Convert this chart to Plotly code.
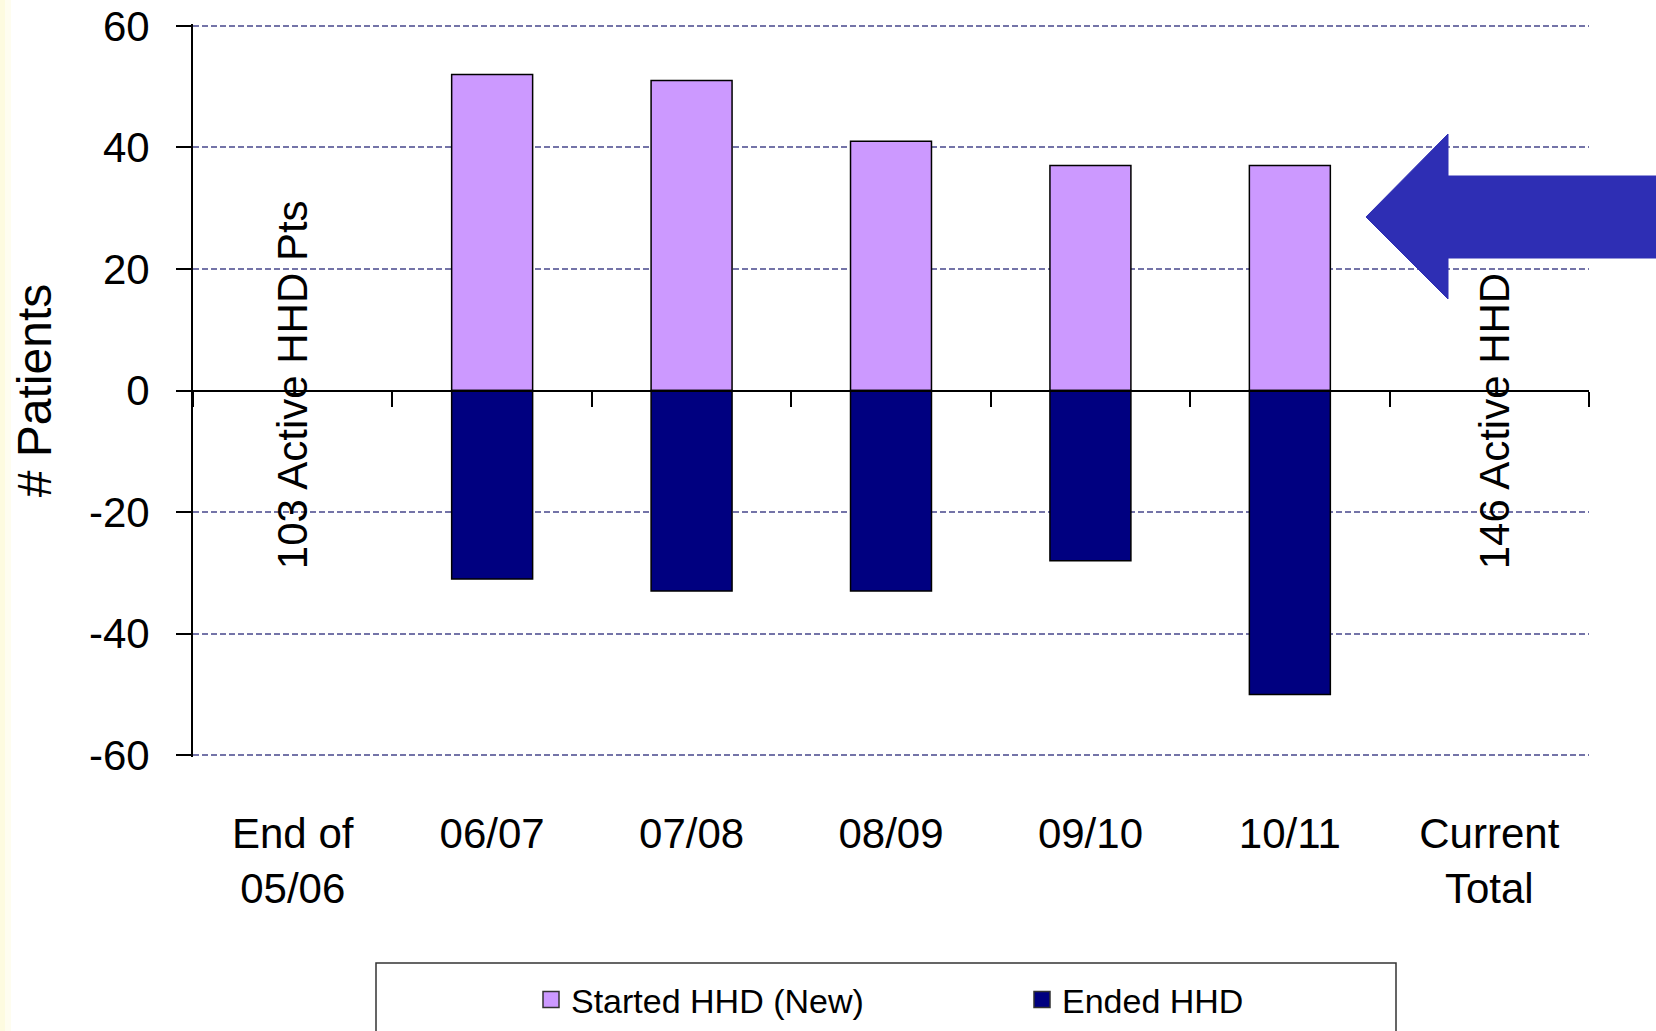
import plotly.graph_objects as go

# ---------------- data ----------------
categories = ["End of<br>05/06", "06/07", "07/08", "08/09", "09/10", "10/11", "Current<br>Total"]
started_new = [None, 52, 51, 41, 37, 37, None]
ended_hhd = [None, -31, -33, -33, -28, -50, None]
series_names = ["Started HHD (New)", "Ended HHD"]
series_colors = ["#CC99FF", "#000080"]
start_label = "103 Active HHD Pts"
end_label = "146 Active HHD"
y_tickvals = [-60, -40, -20, 0, 20, 40, 60]
y_ticktext = ["-60", "-40", "-20", "0", "20", "40", "60"]

# ---------------- layout constants ----------------
W, H = 1656, 1031
L, R, T, B = 193, 67, 24, 274
PW, PH = W - L - R, H - T - B
Y_PAD = 0.3  # small range padding so the edge gridlines are kept

FONT = "'Liberation Sans', Arial, sans-serif"


def px(xp):
    return (xp - L) / PW


def py(yp):
    return (H - B - yp) / PH


fig = go.Figure()

for vals, name, color in zip([started_new, ended_hhd], series_names, series_colors):
    fig.add_trace(go.Bar(
        x=categories, y=vals, name=name, legendgroup=name, showlegend=False,
        marker=dict(color=color, line=dict(color="black", width=1.5)),
    ))
# legend entries with larger square swatches
for name, color in zip(series_names, series_colors):
    fig.add_trace(go.Scatter(
        x=[None], y=[None], name=name, legendgroup=name, mode="markers",
        marker=dict(symbol="square", size=20, color=color, line=dict(color="#333333", width=1.5)),
        hoverinfo="skip",
    ))
# helper trace to host the zero-level category axis (line + boundary ticks)
fig.add_trace(go.Scatter(
    x=categories, y=[0] * len(categories), xaxis="x2", yaxis="y",
    mode="markers", marker=dict(opacity=0), showlegend=False, hoverinfo="skip",
))

ymin, ymax = min(y_tickvals), max(y_tickvals)

fig.update_layout(
    width=W, height=H,
    margin=dict(l=L, r=R, t=T, b=B, autoexpand=False),
    paper_bgcolor="white", plot_bgcolor="white",
    barmode="relative", bargap=0.594,
    font=dict(family=FONT, color="black"),
    xaxis=dict(
        type="category", range=[-0.5, len(categories) - 0.5],
        categoryorder="array", categoryarray=categories,
        showline=False, showgrid=False, zeroline=False, ticks="",
        tickfont=dict(family=FONT, size=42, color="black"),
        ticklabelstandoff=48,
    ),
    xaxis2=dict(
        type="category", overlaying="x", anchor="free", position=0.5, side="bottom",
        range=[-0.5, len(categories) - 0.5],
        showline=True, linecolor="black", linewidth=2,
        ticks="outside", tickson="boundaries", ticklen=15, tickwidth=2, tickcolor="black",
        showticklabels=False, showgrid=False, zeroline=False,
    ),
    yaxis=dict(
        range=[ymin - Y_PAD, ymax + Y_PAD], tickvals=y_tickvals, ticktext=y_ticktext,
        showline=True, linecolor="black", linewidth=2,
        ticks="outside", ticklen=15, tickwidth=2, tickcolor="black",
        showgrid=True, gridcolor="#7474A8", gridwidth=1.5, griddash="6px,3px",
        zeroline=False,
        tickfont=dict(family=FONT, size=42, color="black"),
        ticklabelstandoff=18,
        title=dict(text="# Patients", font=dict(family=FONT, size=48, color="black"), standoff=22),
    ),
    legend=dict(
        orientation="h", x=px(531), xanchor="left", y=py(1000), yanchor="middle",
        font=dict(family=FONT, size=34, color="black"),
        bgcolor="rgba(0,0,0,0)", borderwidth=0,
        entrywidth=446, entrywidthmode="pixels",
        traceorder="normal", itemsizing="trace",
    ),
    showlegend=True,
)

# rotated labels
fig.add_annotation(
    x=categories[0], y=-29.7, xref="x", yref="y", text=start_label, textangle=-90,
    showarrow=False, xanchor="center", yanchor="bottom",
    font=dict(family=FONT, size=42, color="black"),
)
fig.add_annotation(
    x=categories[-1], y=-29.7, xref="x", yref="y", text=end_label, textangle=-90,
    showarrow=False, xanchor="center", yanchor="bottom", xshift=5,
    font=dict(family=FONT, size=42, color="black"),
)

# big blue arrow pointing at the current total
pts = [(1366, 217), (1448, 134), (1448, 176), (1660, 176), (1660, 258), (1448, 258), (1448, 299)]
path = "M " + " L ".join(f"{px(a):.5f},{py(b):.5f}" for a, b in pts) + " Z"
fig.add_shape(type="path", path=path, xref="paper", yref="paper",
              fillcolor="#2E2EB4", line=dict(color="#2E2EB4", width=1), layer="above")

# legend frame
fig.add_shape(type="rect", xref="paper", yref="paper",
              x0=px(376), x1=px(1396), y0=py(1040), y1=py(963),
              line=dict(color="#333333", width=1.5), fillcolor="rgba(0,0,0,0)", layer="below")

# faint yellow left edge
fig.add_shape(type="rect", xref="paper", yref="paper",
              x0=px(0), x1=px(5), y0=py(H), y1=py(0),
              line=dict(width=0), fillcolor="#FDFBE0", layer="below")
fig.add_shape(type="rect", xref="paper", yref="paper",
              x0=px(5), x1=px(11), y0=py(H), y1=py(0),
              line=dict(width=0), fillcolor="#FEFDF0", layer="below")

fig.write_html(
    "out.html",
    config={"displayModeBar": False},
    post_script="document.body.style.margin='0';document.body.style.overflow='hidden';",
)
